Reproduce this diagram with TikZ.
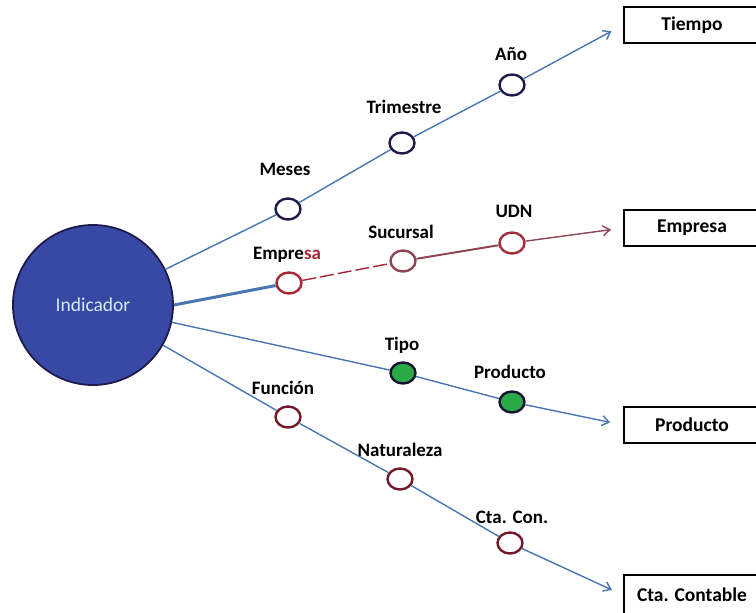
\documentclass[tikz,border=0pt]{standalone}
\usepackage{fontspec}
\setmainfont{Carlito}
\usepackage{tikz}
\usetikzlibrary{arrows.meta, shapes.geometric}

\definecolor{indblue}{RGB}{56,72,165}
\definecolor{navyline}{RGB}{30,26,75}
\definecolor{linkblue}{RGB}{72,118,178}
\definecolor{empred}{RGB}{165,40,52}
\definecolor{sucred}{RGB}{140,70,85}
\definecolor{maroonred}{RGB}{115,25,40}
\definecolor{leafgreen}{RGB}{42,170,70}

\begin{document}
\begin{tikzpicture}[x=1pt,y=-1pt,>={Straight Barb[length=7pt,width=10pt]},
  link/.style={draw=linkblue,line width=1.4pt},
  lab/.style={font=\fontsize{19}{22}\selectfont\bfseries},
  main node/.style={circle,draw=navyline,fill=indblue,line width=1.8pt,minimum size=160pt,
    text=white!80!cyan,font=\fontsize{19.5}{22}\selectfont},
  small node/.style={ellipse,fill=white,line width=2.4pt,minimum width=25pt,minimum height=21pt,inner sep=0pt},
  dim node/.style={rectangle,draw,line width=2.2pt,minimum width=136pt,minimum height=36pt,
    font=\fontsize{19.5}{22}\selectfont\bfseries}]

    \useasboundingbox (0,0) rectangle (756,613);

    % indicador
    \node[main node] (ind) at (93,305) {Indicador};

    % dimensiones
    \node[dim node] (tiempo) at (692,25) {Tiempo};
    \node[dim node] (empresa) at (692,228) {Empresa};
    \node[dim node] (producto) at (692,425) {Producto};
    \node[dim node, minimum height=40pt] (cuenta) at (692,595) {Cta. Contable};

    % tiempo
    \node[small node, draw=navyline] (meses) at (288,209) {};
    \node[small node, draw=navyline] (trim) at (402,143) {};
    \node[small node, draw=navyline] (ano) at (512,85) {};
    \node[lab] (mesesl) at (285,169) {Meses};
    \node[lab] (triml) at (404,107) {Trimestre};
    \node[lab] (anol) at (511,54) {Año};

    % empresa
    \node[small node, draw=empred] (emp) at (289,283) {};
    \node[small node, draw=sucred] (suc) at (403,261) {};
    \node[small node, draw=empred!80!sucred] (udn) at (512,243) {};
    \node[lab] (empl) at (287,255) {Empre\textcolor{empred}{sa}};
    \node[lab] (sucl) at (401,232) {Sucursal};
    \node[lab] (udnl) at (514,211) {UDN};

    % producto
    \node[small node, draw=navyline!70!black, fill=leafgreen] (tipo) at (403,373) {};
    \node[small node, draw=navyline!70!black, fill=leafgreen] (prod) at (512,402) {};
    \node[lab] (tipol) at (402,345) {Tipo};
    \node[lab] (prodl) at (510,372) {Producto};

    % cuenta contable
    \node[small node, draw=maroonred] (func) at (288,417) {};
    \node[small node, draw=maroonred] (nat) at (400,479) {};
    \node[small node, draw=maroonred] (cta) at (510,543) {};
    \node[lab] (funcl) at (283,388) {Función};
    \node[lab] (natl) at (400,450) {Naturaleza};
    \node[lab] (ctal) at (512,517) {Cta. Con.};

    % enlaces
    \draw[link] (ind) -- (meses);
    \draw[link] (meses) -- (trim);
    \draw[link] (trim) -- (ano);
    \draw[link,->,shorten >=13pt] (ano) -- (tiempo.west);

    \draw[draw=linkblue,line width=3pt] (ind.east) -- (emp);
    \draw[draw=empred,line width=1.4pt,dash pattern=on 14pt off 4pt] (emp) -- (suc);
    \draw[draw=sucred,line width=2pt] (suc) -- (udn);
    \draw[draw=sucred,line width=1.4pt,->,shorten >=12pt] (udn) -- (empresa.west);

    \draw[link] (ind) -- (tipo);
    \draw[link] (tipo) -- (prod);
    \draw[link,->,shorten >=13pt] (prod) -- (producto.west);

    \draw[link] (ind) -- (func);
    \draw[link] (func) -- (nat);
    \draw[link] (nat) -- (cta);
    \draw[link,->,shorten >=12pt] (cta) -- (cuenta.west);

\end{tikzpicture}
\end{document}
